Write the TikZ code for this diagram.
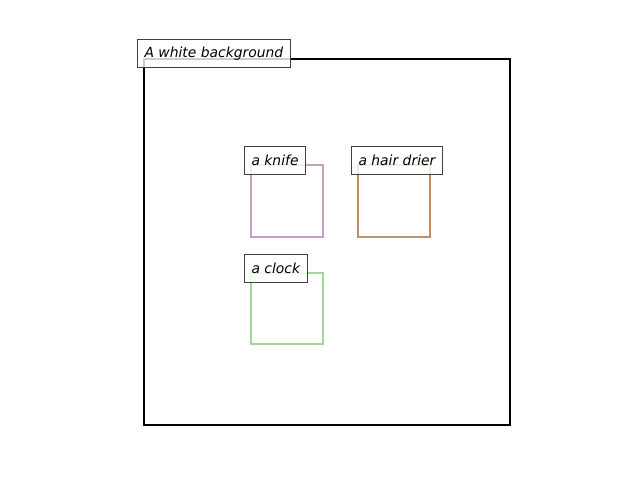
\documentclass[tikz,border=0pt]{standalone}
\usepackage{fontspec}
\setmainfont{DejaVu Sans}
\definecolor{knifec}{RGB}{196,160,196}
\definecolor{drierc}{RGB}{192,144,104}
\definecolor{clockc}{RGB}{160,216,152}
\definecolor{lbledge}{RGB}{64,64,64}
\begin{document}
\begin{tikzpicture}[x=0.72pt,y=-0.72pt,
  objbox/.style={line width=1.44pt},
  lbl/.style={draw=lbledge, line width=0.72pt, fill=white, fill opacity=0.8, text opacity=1,
    anchor=south west, inner xsep=5.04pt, inner ysep=0pt, minimum height=20.16pt,
    font=\fontsize{10}{12}\selectfont\itshape}]
\useasboundingbox (0,0) rectangle (640,480);
\draw[line width=1.44pt, black] (144,59) rectangle (510,425);
\coordinate (bgc) at (137,68);
\node[lbl] (bg) at (bgc) {A white background};
\draw[objbox, knifec] (251,165) rectangle (323,237);
\draw[objbox, drierc] (358,165) rectangle (430,237);
\draw[objbox, clockc] (251,273) rectangle (323,344);
\node[lbl] (knife) at (244,175) {a knife};
\node[lbl] (drier) at (351,175) {a hair drier};
\node[lbl] (clock) at (244,283) {a clock};
\end{tikzpicture}
\end{document}
